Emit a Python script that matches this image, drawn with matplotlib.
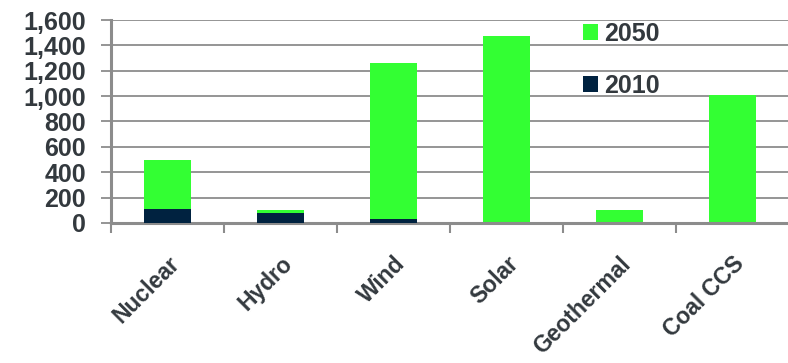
import matplotlib.pyplot as plt
import numpy as np

# Installed capacity by technology (GW)
technologies = ['Nuclear', 'Hydro', 'Wind', 'Solar', 'Geothermal', 'Coal CCS']
cap_2050 = [495, 100, 1265, 1470, 100, 1005]
cap_2010 = [110, 80, 30, 0, 0, 0]

green = '#33ff33'
navy = '#002240'
grey = '#8c8c8c'
text_col = '#33393e'

plt.rcParams['font.family'] = ['Liberation Sans', 'DejaVu Sans']

fig = plt.figure(figsize=(7.88, 3.63), dpi=100)
ax = fig.add_axes([111 / 788, 1 - 223 / 363, 678 / 788, 203 / 363])

x = np.arange(len(technologies))
ax.bar(x, cap_2050, width=0.41, color=green, label='2050', zorder=2)
ax.bar(x, cap_2010, width=0.41, color=navy, label='2010', zorder=3)

ax.set_xlim(-0.5, len(technologies) - 0.5)
ax.set_ylim(0, 1600)
ax.set_yticks(range(0, 1601, 200))
ax.set_yticklabels([f'{v:,}' for v in range(0, 1601, 200)])
ax.yaxis.grid(True, color=grey, linewidth=1.3, zorder=0)
ax.set_axisbelow(True)

for side in ['top', 'right']:
    ax.spines[side].set_visible(False)
for side in ['left', 'bottom']:
    ax.spines[side].set_color(grey)
    ax.spines[side].set_linewidth(2.2)

ax.tick_params(axis='y', length=7, width=1.3, color=grey, pad=11,
               labelsize=18, labelcolor=text_col)
for lbl in ax.get_yticklabels():
    lbl.set_fontweight('bold')

# labels sit on category centres, tick marks on the boundaries
ax.set_xticks(x)
ax.set_xticklabels(technologies, rotation=45, ha='right', va='top',
                   rotation_mode='anchor', fontsize=16.5, fontweight='bold',
                   color=text_col)
ax.tick_params(axis='x', which='major', length=0, pad=21)
ax.set_xticks(np.arange(len(technologies)) - 0.5, minor=True)
ax.tick_params(axis='x', which='minor', length=7, width=1.5, color=grey)

leg = ax.legend(loc='upper left', bbox_to_anchor=(0.696, 0.99), frameon=False,
                prop={'size': 18, 'weight': 'bold'},
                handlelength=0.6, handleheight=0.6, handletextpad=0.25,
                labelspacing=1.1, borderpad=0, borderaxespad=0)
for t in leg.get_texts():
    t.set_color(text_col)

fig.savefig('out.png', dpi=100)
